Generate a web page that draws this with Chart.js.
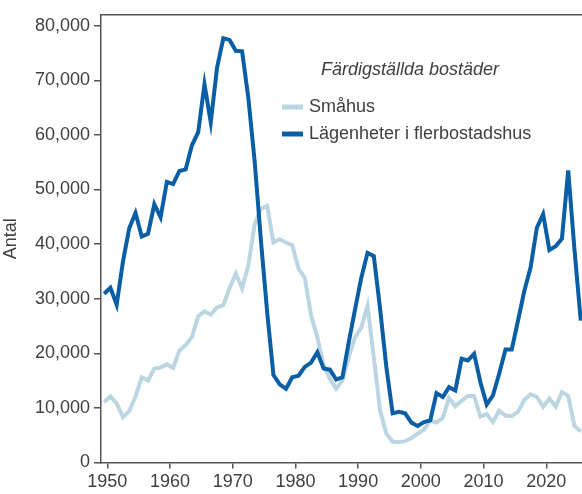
<!DOCTYPE html>
<html>
<head>
<meta charset="utf-8">
<script src="https://cdn.jsdelivr.net/npm/chart.js@4.4.1/dist/chart.umd.min.js"></script>
<style>
  html, body { margin: 0; padding: 0; background: #fff; }
  #wrap { width: 582px; height: 494px; position: relative; }
</style>
</head>
<body>
<div id="wrap"><canvas id="chart"></canvas></div>
<script>
// Färdigställda bostäder per år (punkter ritas mitt i året)
const years = [];
for (let y = 1949; y <= 2025; y++) years.push(y);

const smahus = [
  11100, 12100, 10800, 8300, 9400, 12100, 15600, 15000, 17200, 17400,
  18000, 17300, 20500, 21500, 23000, 26800, 27700, 27100, 28400, 28800,
  31900, 34600, 31900, 36100, 43600, 46500, 47000, 40300, 40900, 40300,
  39800, 35500, 33800, 26900, 22900, 17800, 15300, 13500, 15000, 19300,
  22900, 24700, 28700, 19300, 9500, 5300, 3800, 3700, 3900, 4500,
  5300, 6000, 7700, 7300, 8200, 11800, 10300, 11300, 12200, 12200,
  8400, 8900, 7400, 9500, 8600, 8500, 9300, 11500, 12500, 12000,
  10200, 11700, 10200, 12900, 12200, 6700, 5700
];

const lagenheter = [
  30900, 32000, 28900, 36800, 42900, 45700, 41400, 41900, 47300, 44900,
  51400, 51000, 53400, 53700, 58100, 60500, 69300, 62300, 72300, 77700,
  77400, 75400, 75300, 66700, 55200, 40700, 27500, 16000, 14300, 13500,
  15600, 15900, 17500, 18300, 20200, 17200, 17000, 15200, 15600, 22000,
  28000, 33800, 38400, 37800, 28200, 17500, 9000, 9300, 9000, 7300,
  6700, 7400, 7700, 12700, 12000, 13800, 13200, 19000, 18700, 19900,
  14700, 10600, 12300, 16300, 20700, 20700, 26000, 31400, 35700, 43000,
  45500, 38900, 39600, 41000, 53500, 39000, 26000
];

const xTicks = [1950, 1960, 1970, 1980, 1990, 2000, 2010, 2020];
const yTicks = [0, 10000, 20000, 30000, 40000, 50000, 60000, 70000, 80000];

const fontFamily = '"Liberation Sans", Arial, Helvetica, sans-serif';
const textColor = '#404040';
const axisColor = '#555555';
const lightBlue = '#bcd5e2';
const darkBlue = '#0a5ea6';

function points(values) {
  return values.map((v, i) => ({ x: years[i] + 0.5, y: v }));
}

// titel, legend och ram upptill
const overlay = {
  id: 'overlay',
  afterDraw(chart) {
    const ctx = chart.ctx;
    const area = chart.chartArea;
    ctx.save();
    ctx.strokeStyle = axisColor;
    ctx.lineWidth = 1.5;
    ctx.beginPath();
    ctx.moveTo(area.left, area.top);
    ctx.lineTo(area.right, area.top);
    ctx.stroke();

    ctx.fillStyle = textColor;
    ctx.textBaseline = 'middle';
    ctx.textAlign = 'center';
    ctx.font = 'italic 18px ' + fontFamily;
    ctx.fillText('Färdigställda bostäder', 410, 70);

    ctx.textAlign = 'left';
    ctx.font = '18px ' + fontFamily;
    const rows = [chart.data.datasets[0], chart.data.datasets[1]];
    rows.forEach((ds, i) => {
      const y = 107 + i * 27;
      ctx.strokeStyle = ds.borderColor;
      ctx.lineWidth = 5;
      ctx.beginPath();
      ctx.moveTo(282, y);
      ctx.lineTo(303, y);
      ctx.stroke();
      ctx.fillText(ds.label, 309, y);
    });
    ctx.restore();
  }
};

new Chart(document.getElementById('chart'), {
  type: 'line',
  data: {
    datasets: [
      {
        label: 'Småhus',
        data: points(smahus),
        borderColor: lightBlue,
        borderWidth: 4,
        pointRadius: 0,
        tension: 0,
        order: 1
      },
      {
        label: 'Lägenheter i flerbostadshus',
        data: points(lagenheter),
        borderColor: darkBlue,
        borderWidth: 4,
        pointRadius: 0,
        tension: 0,
        order: 0
      }
    ]
  },
  options: {
    responsive: true,
    maintainAspectRatio: false,
    animation: false,
    layout: { padding: { top: 12, right: 0, left: 0, bottom: 0 } },
    plugins: {
      legend: { display: false },
      tooltip: { enabled: false }
    },
    scales: {
      x: {
        type: 'linear',
        min: 1949,
        max: 2025.7,
        afterBuildTicks: (scale) => { scale.ticks = xTicks.map(v => ({ value: v })); },
        afterFit: (scale) => { scale.height = 31.5; },
        grid: { display: true, drawOnChartArea: false, drawTicks: true, tickLength: 6, color: axisColor, lineWidth: 1.5 },
        border: { display: true, color: axisColor, width: 1.5 },
        ticks: {
          padding: 3,
          color: textColor,
          font: { family: fontFamily, size: 18 },
          maxRotation: 0,
          callback: (v) => String(v)
        }
      },
      y: {
        min: 0,
        max: 82000,
        afterBuildTicks: (scale) => { scale.ticks = yTicks.map(v => ({ value: v })); },
        afterFit: (scale) => { scale.width = 101; },
        grid: { display: true, drawOnChartArea: false, drawTicks: true, tickLength: 7, color: axisColor, lineWidth: 1.5 },
        border: { display: true, color: axisColor, width: 1.5 },
        title: {
          display: true,
          text: 'Antal',
          color: textColor,
          font: { family: fontFamily, size: 18 },
          padding: { top: 0, bottom: 0 }
        },
        ticks: {
          padding: 4,
          color: textColor,
          font: { family: fontFamily, size: 18 },
          callback: (v) => v.toLocaleString('en-US')
        }
      }
    }
  },
  plugins: [overlay]
});
</script>
</body>
</html>
